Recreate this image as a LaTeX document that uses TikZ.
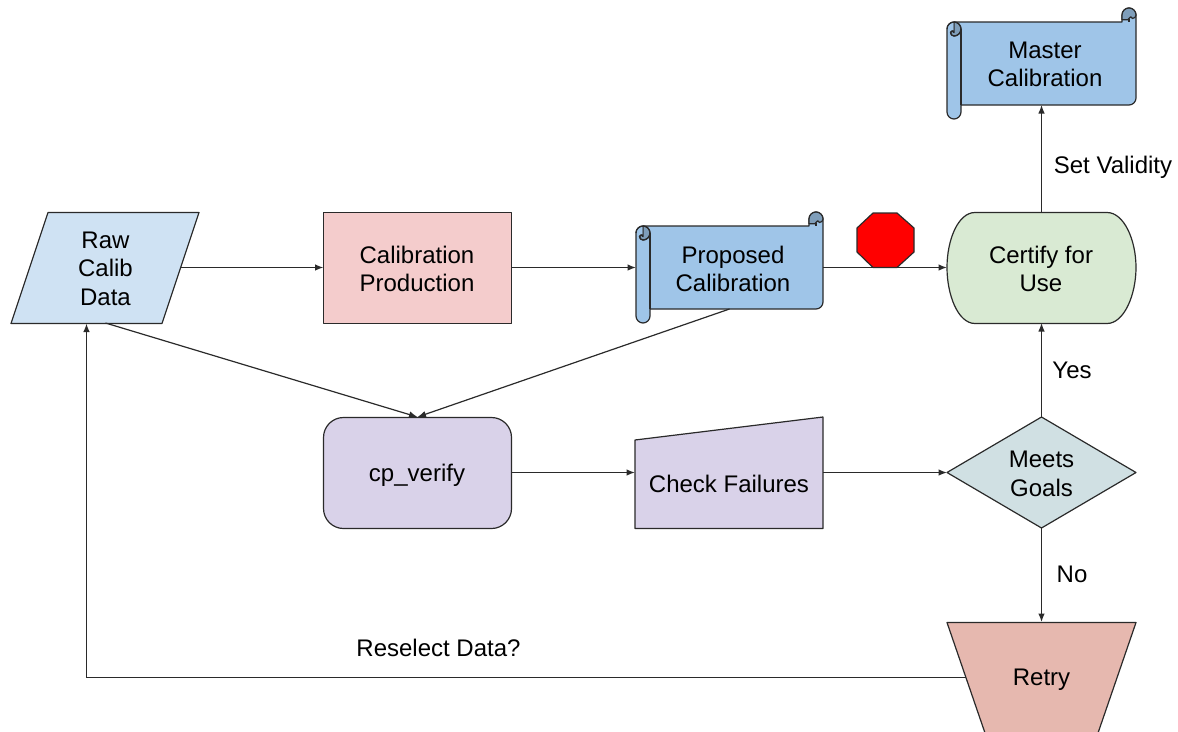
\documentclass[tikz,border=0pt]{standalone}
\usepackage{fontspec}
\setmainfont{Liberation Sans}
\usetikzlibrary{arrows.meta}
\definecolor{lnk}{HTML}{2A2A2A}
\definecolor{rawc}{HTML}{CFE2F3}
\definecolor{calc}{HTML}{F4CCCC}
\definecolor{scr}{HTML}{9FC5E8}
\definecolor{scrd}{HTML}{7F9EBA}
\definecolor{certc}{HTML}{D9EAD3}
\definecolor{purp}{HTML}{D9D2E9}
\definecolor{meet}{HTML}{D0E0E3}
\definecolor{retr}{HTML}{E6B8AF}
\tikzset{
  shapeline/.style={draw=lnk,line width=1.2pt,line join=round},
  box/.style={inner sep=0pt,outer sep=0pt},
  lbl/.style={inner sep=0pt,align=center,text=black,font=\fontsize{24}{28.5}\selectfont},
  conn/.style={draw=lnk,line width=1.2pt,-{Latex[length=8.5pt,width=6.5pt]}},
}
% y grows downward here, so arc angles are read clockwise on the page
\newcommand{\scrollpath}[4]{%
  % #1 x0, #2 ytop, #3 x1, #4 ybot
  \path[shapeline,fill=scr] (#1,#2+7) arc[start angle=180,end angle=270,radius=7]
    -- (#3-14,#2) -- (#3-14,#2-7) arc[start angle=180,end angle=360,radius=7]
    -- (#3,#4-7) arc[start angle=0,end angle=90,radius=7]
    -- (#1+14,#4) -- (#1+14,#4+7) arc[start angle=0,end angle=180,radius=7] -- cycle;
  % right curl
  \path[shapeline,fill=scrd] (#3-14,#2-7) arc[start angle=180,end angle=360,radius=7]
    arc[start angle=0,end angle=90,radius=3.5]
    arc[start angle=0,end angle=-180,radius=1.75]
    arc[start angle=0,end angle=90,radius=1.2]
    -- (#3-14,#2-2.3) -- cycle;
  \draw[shapeline] (#3-7,#2-3.5) -- (#3-7,#2);
  % left curl
  \path[shapeline,fill=scrd] (#1+7,#2) arc[start angle=270,end angle=450,radius=7]
    arc[start angle=90,end angle=180,radius=3.5]
    arc[start angle=180,end angle=360,radius=1.75]
    -- (#1+7,#2);
  \fill[scr] (#1+1,#2+4) -- (#1+6.3,#2+1) -- (#1+6.3,#2+8) -- (#1+3,#2+9) -- cycle;
  \draw[shapeline] (#1,#2+7) arc[start angle=180,end angle=270,radius=7]
    arc[start angle=270,end angle=450,radius=7]
    arc[start angle=90,end angle=180,radius=3.5]
    arc[start angle=180,end angle=360,radius=1.75];
  \draw[shapeline] (#1+14,#2+7) -- (#1+14,#4);
}
\begin{document}
\begin{tikzpicture}[x=1pt,y=-1pt]
\useasboundingbox (0,0) rectangle (1178,731);
% shapes
\path[shapeline,fill=rawc] (48,212.5) -- (199,212.5) -- (162,323.5) -- (11,323.5) -- cycle;
\path[shapeline,fill=calc] (323.5,212.5) rectangle (511.5,323.5);
\scrollpath{636}{226}{823}{309}
\scrollpath{947}{22}{1136}{105}
\path[shapeline,fill=red] (873,213) -- (897,213) -- (914,228) -- (914,252) -- (897,267.5) -- (873,267.5) -- (857,252) -- (857,228) -- cycle;
\path[shapeline,fill=certc] (975,212.5) -- (1107,212.5)
  .. controls (1124,212.5) and (1136,240) .. (1136,267.5)
  .. controls (1136,295) and (1124,323.5) .. (1107,323.5) -- (975,323.5)
  .. controls (958,323.5) and (947,295) .. (947,267.5)
  .. controls (947,240) and (958,212.5) .. (975,212.5) -- cycle;
\path[shapeline,fill=purp,rounded corners=20pt] (323.5,417.5) rectangle (511.5,528.5);
\path[shapeline,fill=purp] (635,440) -- (823,417) -- (823,528.5) -- (635,528.5) -- cycle;
\path[shapeline,fill=meet] (1041.5,417) -- (1136,472.5) -- (1041.5,528) -- (947,472.5) -- cycle;
\path[shapeline,fill=retr] (947,622.5) -- (1136,622.5) -- (1098,733) -- (985,733) -- cycle;
% anchor boxes
\node[box,minimum width=151pt,minimum height=111pt] (raw) at (105.5,267.5) {};
\node[box,minimum width=188pt,minimum height=111pt] (calib) at (417.5,267.5) {};
\node[box,minimum width=187pt,minimum height=83pt] (prop) at (729.5,267.5) {};
\node[box,minimum width=189pt,minimum height=83pt] (master) at (1041.5,63.5) {};
\node[box,minimum width=189pt,minimum height=111pt] (cert) at (1041.5,267.5) {};
\node[box,minimum width=188pt,minimum height=111pt] (verify) at (417.5,472.5) {};
\node[box,minimum width=188pt,minimum height=111pt] (check) at (729,472.5) {};
\node[box,minimum width=189pt,minimum height=111pt] (meets) at (1041.5,472.5) {};
\node[box,minimum width=151pt,minimum height=110pt] (retry) at (1041.5,677.5) {};
\coordinate (rawin) at (86.5,323.5);
\coordinate (trytop) at (1041.5,622);
% texts
\node[lbl] (rawtext) at (105.5,268.7) {Raw\\Calib\\Data};
\node[lbl] (calibtext) at (417,268.7) {Calibration\\Production};
\node[lbl] (proptext) at (733,269) {Proposed\\Calibration};
\node[lbl] (mastertext) at (1045,64.5) {Master\\Calibration};
\node[lbl] (certtext) at (1041,268.7) {Certify for\\Use};
\node[lbl] (verifytext) at (417,475) {cp\_verify};
\node[lbl] (checktext) at (729,484) {Check Failures};
\node[lbl] (meetstext) at (1041.5,473.7) {Meets\\Goals};
\node[lbl] (retrytext) at (1041.5,680) {Retry};
% connectors
\draw[conn] (raw.east) -- (calib.west);
\draw[conn] (calib.east) -- (prop.west);
\draw[conn] (prop.east) -- (cert.west);
\draw[conn] (raw.south) -- (verify.north);
\draw[conn] (prop.south) -- (verify.north);
\draw[conn] (verify.east) -- (check.west);
\draw[conn] (check.east) -- (meets.west);
\draw[conn] (meets.north) -- (cert.south);
\draw[conn] (meets.south) -- (trytop);
\draw[conn] (cert.north) -- (master.south);
\draw[conn] (retry.west) -| (rawin);
% labels
\node[lbl] (lset) at (1113,167.5) {Set Validity};
\node[lbl] (lyes) at (1072,370) {Yes};
\node[lbl] (lno) at (1072,574) {No};
\node[lbl] (lres) at (438.5,648) {Reselect Data?};
\end{tikzpicture}
\end{document}
